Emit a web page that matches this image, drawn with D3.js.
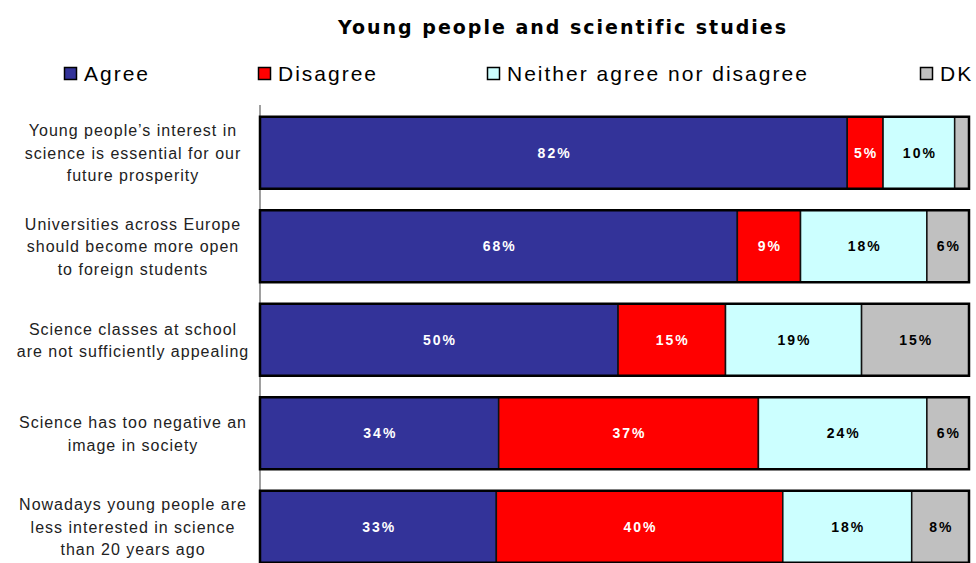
<!DOCTYPE html>
<html><head><meta charset="utf-8">
<script src="https://cdn.jsdelivr.net/npm/d3@7"></script>
<style>body{margin:0;background:#fff}svg{display:block}</style>
</head><body><svg id="c" width="976" height="563"></svg>
<script>
const categories = [
  ["Young people\u2019s interest in","science is essential for our","future prosperity"],
  ["Universities across Europe","should become more open","to foreign students"],
  ["Science classes at school","are not sufficiently appealing"],
  ["Science has too negative an","image in society"],
  ["Nowadays young people are","less interested in science","than 20 years ago"]
];
const seriesNames = ["Agree","Disagree","Neither agree nor disagree","DK"];
const agree    = [82, 68, 50, 34, 33];
const disagree = [5, 9, 15, 37, 40];
const neither  = [10, 18, 19, 24, 18];
const dk       = [2, 6, 15, 6, 8];
const colors = ["#333399","#FF0000","#CCFFFF","#C0C0C0"];
const labelColors = ["#ffffff","#ffffff","#000000","#000000"];

const svg = d3.select("#c");
const rows = categories.map((c,i)=>({idx:i, Agree:agree[i], Disagree:disagree[i], "Neither agree nor disagree":neither[i], DK:dk[i]}));
const stack = d3.stack().keys(seriesNames).offset(d3.stackOffsetExpand);
const layers = stack(rows);

const x = d3.scaleLinear().domain([0,1]).range([260,969]);
const y = d3.scaleBand().domain(d3.range(categories.length)).range([106,573.5]).paddingInner(0.23).paddingOuter(0.115);

// title
svg.append("text").attr("x",563).attr("y",34).attr("text-anchor","middle")
  .attr("font-family","DejaVu Sans, Verdana, sans-serif").attr("font-weight","bold")
  .attr("font-size",19).attr("letter-spacing","2px").attr("fill","#000")
  .text("Young people and scientific studies");

// legend
const legX = [64, 258, 487, 920];
const lg = svg.append("g");
seriesNames.forEach((s,i)=>{
  lg.append("rect").attr("x",legX[i]+0.5).attr("y",67.5).attr("width",12).attr("height",12)
    .attr("fill",colors[i]).attr("stroke","#000").attr("stroke-width",1.5);
  lg.append("text").attr("x",legX[i]+20).attr("y",81).attr("font-family","Liberation Sans, Arial, sans-serif")
    .attr("font-size",21).attr("letter-spacing","2px").attr("fill","#000").text(s);
});

// axis
svg.append("line").attr("x1",260).attr("x2",260).attr("y1",105).attr("y2",563)
  .attr("stroke","#808080").attr("stroke-width",1.5);

// bars
layers.forEach((layer,li)=>{
  const g = svg.append("g");
  g.selectAll("rect").data(layer).join("rect")
    .attr("x",d=>x(d[0])).attr("y",(d,i)=>y(i))
    .attr("width",d=>x(d[1])-x(d[0])).attr("height",y.bandwidth())
    .attr("fill",colors[li]).attr("stroke","#111").attr("stroke-width",1.5);
});
// outer border
svg.append("g").selectAll("rect").data(rows).join("rect")
  .attr("x",x(0)).attr("y",(d,i)=>y(i)).attr("width",x(1)-x(0)).attr("height",y.bandwidth())
  .attr("fill","none").attr("stroke","#000").attr("stroke-width",2.5);

// value labels
layers.forEach((layer,li)=>{
  svg.append("g").selectAll("text").data(layer.filter(d=>d.data[seriesNames[li]]>=3)).join("text")
    .attr("x",d=>(x(d[0])+x(d[1]))/2+1).attr("y",d=>y(d.data.idx)+y.bandwidth()/2+5)
    .attr("text-anchor","middle").attr("font-family","Liberation Sans, Arial, sans-serif")
    .attr("font-weight","bold").attr("font-size",14).attr("letter-spacing","2px")
    .attr("fill",labelColors[li]).text(d=>d.data[seriesNames[li]]+"%");
});

// category labels
categories.forEach((lines,i)=>{
  const cy = y(i)+y.bandwidth()/2;
  const t = svg.append("text").attr("text-anchor","middle").attr("font-family","Liberation Sans, Arial, sans-serif")
    .attr("font-size",16).attr("letter-spacing","1px").attr("fill","#222");
  lines.forEach((l,j)=>{
    t.append("tspan").attr("x",133).attr("y",cy + (j-(lines.length-1)/2)*22.5 + 6).text(l);
  });
});
</script></body></html>
